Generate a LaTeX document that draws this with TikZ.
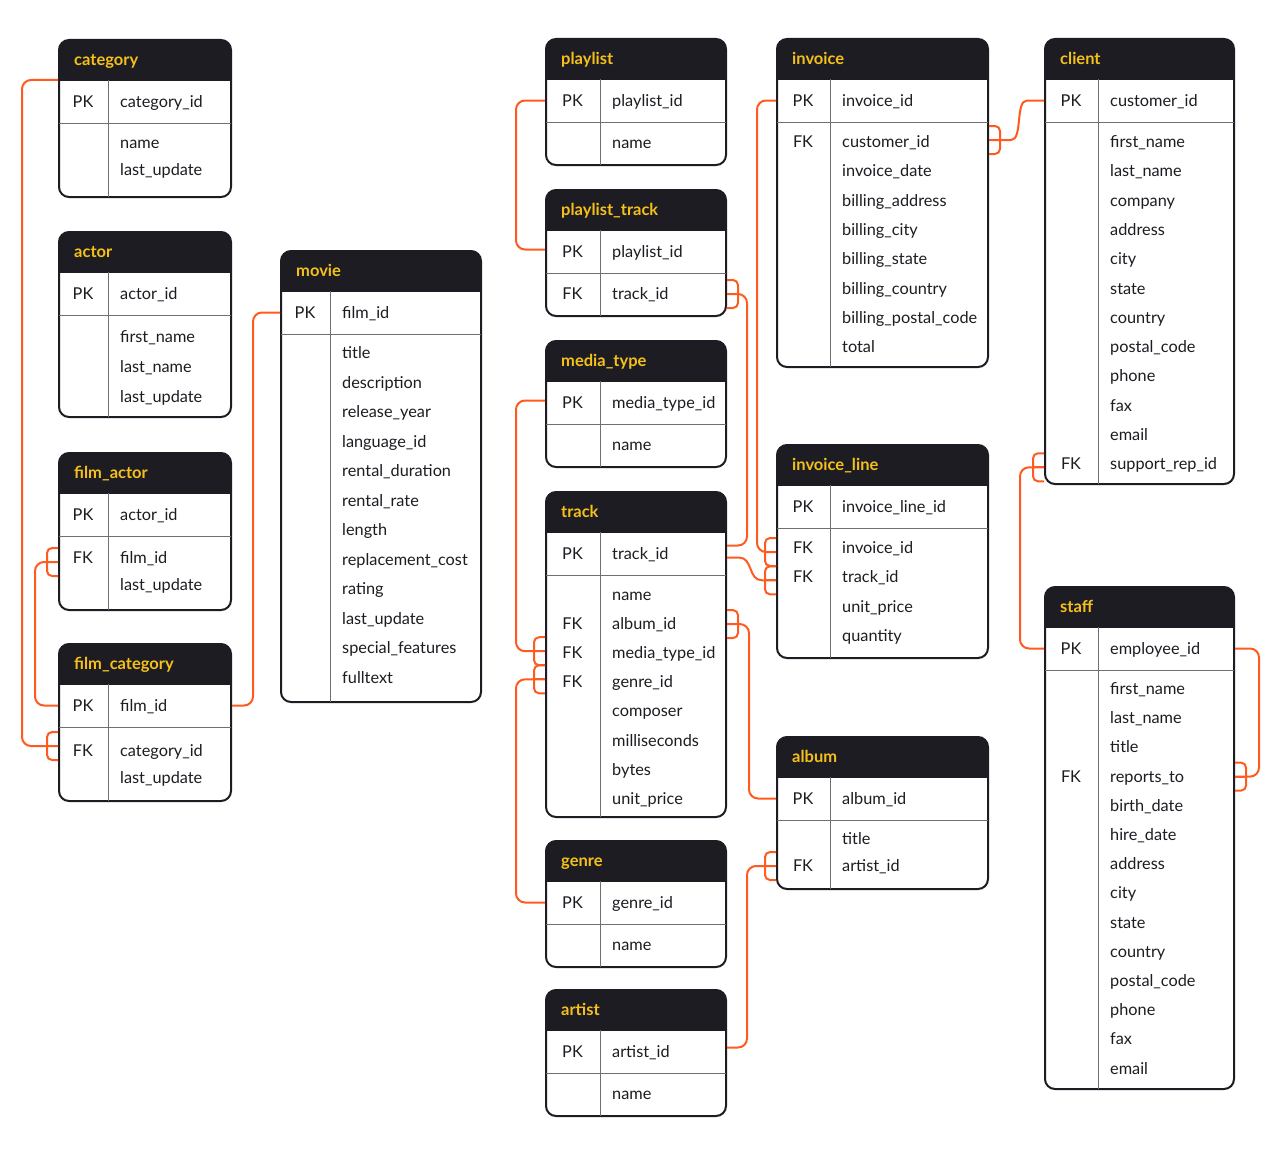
\documentclass[tikz,border=0pt]{standalone}
\usepackage{fontspec}
\setmainfont{Lato}

\definecolor{erdark}{HTML}{1C1C22}
\definecolor{eryellow}{HTML}{F5C01A}
\definecolor{erorange}{HTML}{FF5A1F}
\definecolor{ergray}{HTML}{6E6E73}

\tikzset{
  tablebox/.style={draw=erdark, line width=2pt, rounded corners=10pt, fill=white, inner sep=0pt,
    path picture={\fill[erdark, sharp corners] (path picture bounding box.north west) rectangle ([yshift=-41pt]path picture bounding box.north east);}},
  rowline/.style={draw=ergray, line width=1pt},
  tabletitle/.style={anchor=mid west, inner sep=0pt, text=eryellow, font=\fontsize{16.5}{19}\selectfont\bfseries},
  fieldtext/.style={anchor=mid west, inner sep=0pt, text=erdark, font=\fontsize{16.3}{19}\selectfont},
  keytext/.style={anchor=mid, inner sep=0pt, text=erdark, font=\fontsize{16.3}{19}\selectfont},
  link/.style={draw=erorange, line width=2pt, rounded corners=9pt},
  crow/.style={draw=erorange, line width=2pt, rounded corners=5pt},
}

% table frame, header and primary key row
\newcommand{\dbtable}[7]{%
  \node[tablebox, minimum width=#4pt, minimum height=#5pt, anchor=north west] (#1) at (#2,#3) {};
  \coordinate (#1-head) at ([yshift=-41pt]#1.north west);
  \coordinate (#1-div) at ([xshift=#6pt]#1.north west);
  \coordinate (#1-keycol) at ([xshift=#6pt/2]#1.north west);
  \draw[rowline] ([yshift=-41pt]#1-div) -- ([yshift=1pt]#1-div |- #1.south);
  \draw[rowline] ([yshift=-84pt,xshift=1pt]#1.north west) -- ([yshift=-84pt,xshift=-1pt]#1.north east);
  \node[tabletitle] (#1-title) at ([xshift=16pt,yshift=-24pt]#1.north west) {#1};
  \coordinate (#1-#7-port) at ([yshift=-62.5pt]#1-keycol);
  \node[fieldtext, xshift=12pt] (#1-#7) at ([yshift=-65.5pt]#1-div) {#7};
  \node[keytext] (#1-#7-key) at (#1-keycol |- #1-#7.mid) {PK};
}
% remaining rows: id, offset of first row, step, key/field list
\newcommand{\dbfields}[4]{%
  \foreach \keyname/\fieldname [count=\n from 0] in {#4}{
    \pgfmathsetmacro{\dy}{#2+\n*#3}
    \coordinate (#1-\fieldname-port) at ([yshift=-\dy pt]#1-keycol);
    \node[fieldtext, xshift=12pt] (#1-\fieldname) at ([yshift=-\dy pt-3pt]#1-div) {\fieldname};
    \node[keytext] (#1-\fieldname-key) at (#1-keycol |- #1-\fieldname.mid) {\keyname};
  }
}
% crow's feet on the west / east side of a table
\newcommand{\crowleft}[1]{%
  \draw[crow] (#1) ++(0,14pt) -- ++(-11pt,0) -- ++(0,-28pt) -- ++(11pt,0);
  \draw[crow] (#1) -- ++(-11pt,0);
}
\newcommand{\crowright}[1]{%
  \draw[crow] (#1) ++(0,14pt) -- ++(11pt,0) -- ++(0,-28pt) -- ++(-11pt,0);
  \draw[crow] (#1) -- ++(11pt,0);
}

\begin{document}
\catcode`\_=12
\begin{tikzpicture}[x=1pt, y=-1pt]
  \useasboundingbox (0,0) rectangle (1280,1156);

  % left column
  \dbtable{category}{58}{39}{172}{157}{50}{category_id}
  \dbfields{category}{104}{27}{/name, /last_update}
  \dbtable{actor}{58}{231}{172}{185}{50}{actor_id}
  \dbfields{actor}{106}{30}{/first_name, /last_name, /last_update}
  \dbtable{film_actor}{58}{452}{172}{157}{50}{actor_id}
  \dbfields{film_actor}{106}{27}{FK/film_id, /last_update}
  \dbtable{film_category}{58}{643}{172}{157}{50}{film_id}
  \dbfields{film_category}{108}{27}{FK/category_id, /last_update}
  \dbtable{movie}{280}{250}{200}{451}{50}{film_id}
  \dbfields{movie}{103}{29.5}{/title, /description, /release_year, /language_id, /rental_duration, /rental_rate, /length, /replacement_cost, /rating, /last_update, /special_features, /fulltext}

  % music tables
  \dbtable{playlist}{545}{38}{180}{126}{55}{playlist_id}
  \dbfields{playlist}{105}{0}{/name}
  \dbtable{playlist_track}{545}{189}{180}{126}{55}{playlist_id}
  \dbfields{playlist_track}{105}{0}{FK/track_id}
  \dbtable{media_type}{545}{340}{180}{126}{55}{media_type_id}
  \dbfields{media_type}{105}{0}{/name}
  \dbtable{track}{545}{491}{180}{325}{55}{track_id}
  \dbfields{track}{104}{29.1}{/name, FK/album_id, FK/media_type_id, FK/genre_id, /composer, /milliseconds, /bytes, /unit_price}
  \dbtable{genre}{545}{840}{180}{126}{55}{genre_id}
  \dbfields{genre}{105}{0}{/name}
  \dbtable{artist}{545}{989}{180}{126}{55}{artist_id}
  \dbfields{artist}{105}{0}{/name}

  % sales tables
  \dbtable{invoice}{776}{38}{211}{328}{54}{invoice_id}
  \dbfields{invoice}{104}{29.3}{FK/customer_id, /invoice_date, /billing_address, /billing_city, /billing_state, /billing_country, /billing_postal_code, /total}
  \dbtable{invoice_line}{776}{444}{211}{213}{54}{invoice_line_id}
  \dbfields{invoice_line}{104}{29.3}{FK/invoice_id, FK/track_id, /unit_price, /quantity}
  \dbtable{album}{776}{736}{211}{152}{54}{album_id}
  \dbfields{album}{103}{27}{/title, FK/artist_id}
  \dbtable{client}{1044}{38}{189}{445}{54}{customer_id}
  \dbfields{client}{104}{29.3}{/first_name, /last_name, /company, /address, /city, /state, /country, /postal_code, /phone, /fax, /email, FK/support_rep_id}
  \dbtable{staff}{1044}{586}{189}{502}{54}{employee_id}
  \dbfields{staff}{103}{29.2}{/first_name, /last_name, /title, FK/reports_to, /birth_date, /hire_date, /address, /city, /state, /country, /postal_code, /phone, /fax, /email}

  % relations
  \draw[link] (category-head) -- ++(-36pt,0) |- ([yshift=5pt]film_category.west |- film_category-category_id-port);
  \crowleft{[yshift=5pt]film_category.west |- film_category-category_id-port}
  \draw[link] ([yshift=-4pt]film_actor.west |- film_actor-film_id-port) -- ++(-23pt,0) |- (film_category.west |- film_category-film_id-port);
  \crowleft{[yshift=-4pt]film_actor.west |- film_actor-film_id-port}
  \draw[link] (film_category.east |- film_category-film_id-port) -- ++(21pt,0) |- (movie.west |- movie-film_id-port);

  \draw[link] (playlist.west |- playlist-playlist_id-port) -- ++(-29pt,0) |- ([yshift=2pt]playlist_track.west |- playlist_track-playlist_id-port);
  \draw[link] (playlist_track.east |- playlist_track-track_id-port) -- ++(20pt,0) |- ([yshift=8pt]track.east |- track-track_id-port);
  \crowright{playlist_track.east |- playlist_track-track_id-port}
  \draw[link] ([yshift=2pt]media_type.west |- media_type-media_type_id-port) -- ++(-29pt,0) |- ([yshift=2pt]track.west |- track-media_type_id-port);
  \crowleft{[yshift=2pt]track.west |- track-media_type_id-port}
  \draw[link] (genre.west |- genre-genre_id-port) -- ++(-29pt,0) |- ([yshift=3pt]track.west |- track-genre_id-port);
  \crowleft{[yshift=3pt]track.west |- track-genre_id-port}
  \draw[link] (track.east |- track-album_id-port) -- ++(22pt,0) |- (album.west |- album-album_id-port);
  \crowright{track.east |- track-album_id-port}
  \draw[link] (album.west |- album-artist_id-port) -- ++(-29pt,0) |- ([yshift=4pt]artist.east |- artist-artist_id-port);
  \crowleft{album.west |- album-artist_id-port}

  \draw[link] (invoice.west |- invoice-invoice_id-port) -- ++(-19pt,0) |- ([yshift=-4pt]invoice_line.west |- invoice_line-invoice_id-port);
  \crowleft{[yshift=-4pt]invoice_line.west |- invoice_line-invoice_id-port}
  \draw[link, sharp corners] ([yshift=-4pt]track.east |- track-track_id-port) -- ++(12pt,0)
    .. controls +(14pt,0) and +(-14pt,0) .. ([xshift=-14pt,yshift=-3pt]invoice_line.west |- invoice_line-track_id-port)
    -- ([yshift=-3pt]invoice_line.west |- invoice_line-track_id-port);
  \crowleft{[yshift=-3pt]invoice_line.west |- invoice_line-track_id-port}
  \draw[link, sharp corners] ([yshift=2pt]invoice.east |- invoice-customer_id-port) -- ++(22pt,0)
    .. controls +(12pt,0) and +(-12pt,0) .. ([xshift=-17pt]client.west |- client-customer_id-port)
    -- (client.west |- client-customer_id-port);
  \crowright{[yshift=2pt]invoice.east |- invoice-customer_id-port}
  \draw[link] ([yshift=-3pt]client.west |- client-support_rep_id-port) -- ++(-24pt,0) |- (staff.west |- staff-employee_id-port);
  \crowleft{[yshift=-3pt]client.west |- client-support_rep_id-port}
  \draw[link] (staff.east |- staff-employee_id-port) -- ++(24pt,0) |- (staff.east |- staff-reports_to-port);
  \crowright{staff.east |- staff-reports_to-port}
\end{tikzpicture}
\end{document}
